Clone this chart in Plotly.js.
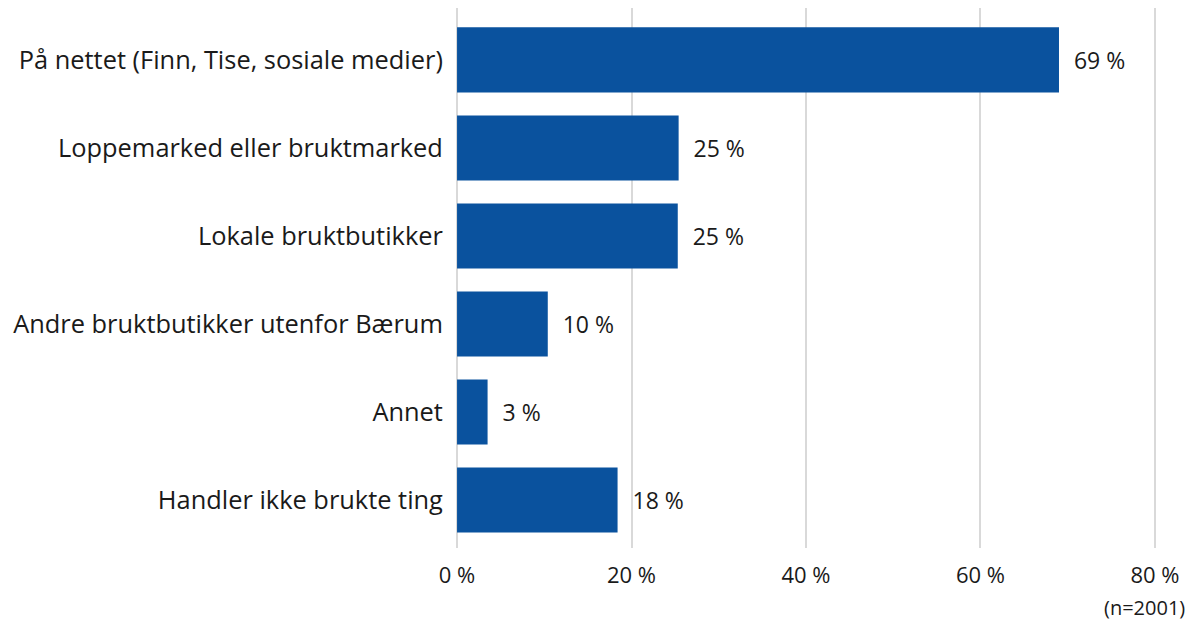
<!DOCTYPE html>
<html><head><meta charset="utf-8">
<script src="https://cdn.plot.ly/plotly-3.0.1.min.js"></script>
<style>html,body{margin:0;padding:0;background:#fff;}#chart{width:1190px;height:620px;}</style>
</head><body><div id="chart"></div>
<script>
const categories = [
  "På nettet (Finn, Tise, sosiale medier)",
  "Loppemarked eller bruktmarked",
  "Lokale bruktbutikker",
  "Andre bruktbutikker utenfor Bærum",
  "Annet",
  "Handler ikke brukte ting"
];
const values = [69.0, 25.4, 25.3, 10.4, 3.5, 18.4];
const valueLabels = ["69 %", "25 %", "25 %", "10 %", "3 %", "18 %"];
const tickValues = [0, 20, 40, 60, 80];
const tickLabels = ["0 %", "20 %", "40 %", "60 %", "80 %"];
const noteText = "(n=2001)";

const FONT = "'Open Sans', sans-serif";
const trace = {
  type: 'bar', orientation: 'h',
  y: categories, x: values,
  text: valueLabels.map(t => '\u00a0\u00a0' + t),
  textposition: 'outside', cliponaxis: false,
  textfont: {family: FONT, size: 23, color: '#1a1a1a'},
  marker: {color: '#0a529e', line: {width: 0}},
  width: 0.74, hoverinfo: 'none'
};
const layout = {
  width: 1190, height: 620,
  margin: {l: 456, r: 34, t: 8, b: 72},
  paper_bgcolor: '#fff', plot_bgcolor: '#fff',
  showlegend: false,
  font: {family: FONT, color: '#1a1a1a'},
  xaxis: {
    range: [-0.12, 80.12], tickvals: tickValues, ticktext: tickLabels,
    showgrid: true, gridcolor: '#d9d9d9', gridwidth: 2,
    zeroline: false, showline: false,
    ticks: 'outside', ticklen: 8, tickcolor: 'rgba(0,0,0,0)',
    tickfont: {family: FONT, size: 22, color: '#1a1a1a'}
  },
  yaxis: {
    type: 'category', categoryorder: 'array', categoryarray: categories,
    range: [5.545, -0.59],
    showgrid: false, zeroline: false, showline: false,
    ticks: 'outside', ticklen: 7, tickcolor: 'rgba(0,0,0,0)',
    tickfont: {family: FONT, size: 25.4, color: '#1a1a1a'}
  },
  annotations: [{
    text: noteText, xref: 'paper', yref: 'paper', x: 1.044, y: 0,
    xanchor: 'right', yanchor: 'top', yshift: -44, showarrow: false,
    font: {family: FONT, size: 20, color: '#1a1a1a'}
  }]
};
Plotly.newPlot('chart', [trace], layout, {staticPlot: true, displayModeBar: false});
</script>
</body></html>
